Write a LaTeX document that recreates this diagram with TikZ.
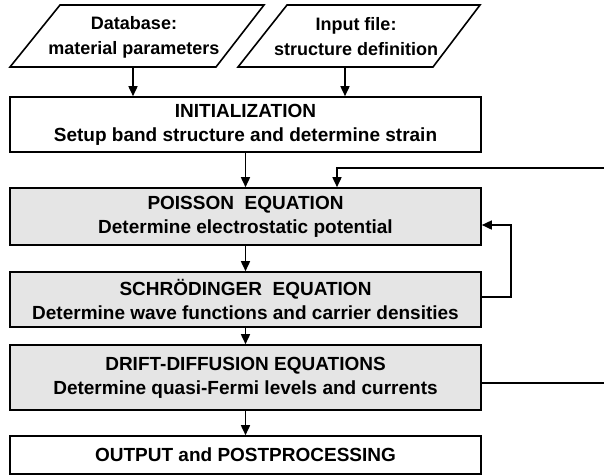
\documentclass[tikz,border=0pt]{standalone}
\usepackage{fontspec}
\setmainfont{Liberation Sans}
\usetikzlibrary{arrows.meta}
\definecolor{boxgray}{gray}{0.9}
\tikzset{
  stage/.style={draw, line width=1.6pt, minimum width=471pt, align=center, inner sep=0pt,
    font=\fontsize{19}{24}\selectfont\bfseries},
  loopstage/.style={stage, fill=boxgray},
  datain/.style={align=center, inner sep=0pt, font=\fontsize{18}{25}\selectfont\bfseries},
  frame/.style={line width=1.6pt, line join=miter},
  arr/.style={line width=1.6pt, -{Triangle[length=10pt,width=9pt]}}
}
\begin{document}
\begin{tikzpicture}[x=1pt,y=-1pt]
	\useasboundingbox (0,0) rectangle (604,475);
	% inputs
	\draw[frame] (10,67) -- (60,5) -- (264,5) -- (216,67) -- cycle;
	\draw[frame] (238,67) -- (287,5) -- (480,5) -- (433,67) -- cycle;
	\node[datain] (db) at (134,37) {Database:\\material parameters};
	\node[datain] (inp) at (356,37) {Input file:\\structure definition};
	% stages
	\node[stage, minimum height=55pt] (init) at (245.5,124.5) {INITIALIZATION\\Setup band structure and determine strain};
	\node[loopstage, minimum height=57pt] (pois) at (245.5,216.5) {POISSON\ \ EQUATION\\Determine electrostatic potential};
	\node[loopstage, minimum height=55pt] (schr) at (245.5,299.5) {SCHR\"ODINGER\ \ EQUATION\\Determine wave functions and carrier densities};
	\node[loopstage, minimum height=65pt] (drift) at (245.5,377.5) {DRIFT-DIFFUSION EQUATIONS\\Determine quasi-Fermi levels and currents};
	\node[stage, minimum height=38pt] (out) at (245.5,455) {OUTPUT and POSTPROCESSING};
	\coordinate (dbout) at (133,67);
	\coordinate (inpout) at (345,67);
	\coordinate (fbin) at (604,168);
	\coordinate (ddout) at (604,383);
	% connectors
	\draw[arr] (dbout) -- (dbout |- init.north);
	\draw[arr] (inpout) -- (inpout |- init.north);
	\draw[arr] (init) -- (pois);
	\draw[arr] (pois) -- (schr);
	\draw[arr] (schr) -- (drift);
	\draw[arr] (drift) -- (out);
	\draw[arr] (fbin) -| ([xshift=91.5pt]pois.north);
	\draw[arr] ([yshift=2.5pt]schr.east) -- ++(29,0) |- ([yshift=-8.5pt]pois.east);
	\draw[line width=1.6pt] ([yshift=-5.5pt]drift.east) -- (ddout);
\end{tikzpicture}
\end{document}
